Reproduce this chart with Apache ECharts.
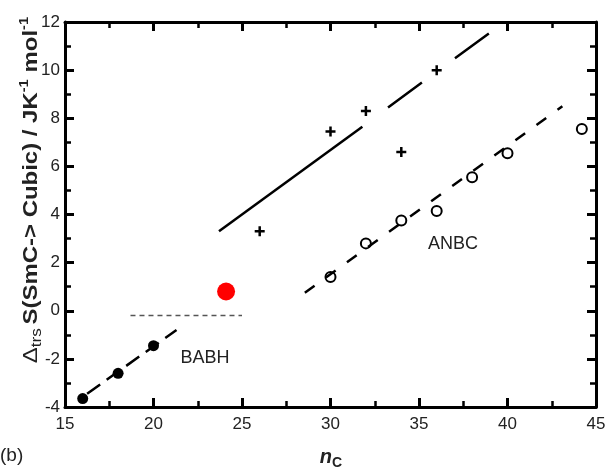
<!DOCTYPE html>
<html>
<head>
<meta charset="utf-8">
<script src="https://cdn.jsdelivr.net/npm/echarts@6/dist/echarts.min.js"></script>
</head>
<body style="margin:0;background:#fff">
<div id="chart" style="width:607px;height:471px"></div>
<script>
// 数据：n_C 与 ΔS
var babhX = [16, 18, 20]
var babhY = [-3.65, -2.6, -1.45]
var plusX = [26, 30, 32, 34, 36]
var plusY = [3.3, 7.45, 8.3, 6.6, 10.0]
var anbcX = [30, 32, 34, 36, 38, 40, 44.2]
var anbcY = [1.4, 2.8, 3.75, 4.15, 5.55, 6.55, 7.55]
var redX = [24.1]
var redY = [0.8]
// 拟合线端点
var babhFitX = [16.25, 21.3]
var babhFitY = [-3.45, -0.8]
var plusSolidX = [23.7, 31.8]
var plusSolidY = [3.3, 7.65]
var plusDashX = [33.25, 39]
var plusDashY = [8.45, 11.55]
var anbcFitX = [28.55, 43.1]
var anbcFitY = [0.75, 8.5]
var refX = [18.7, 25]
var refY = [-0.2, -0.2]

var xTicks = [15, 45, 5]
var yTicks = [-4, 12, 2]

function pairs(xs, ys) {
  return xs.map(function (x, i) { return [x, ys[i]] })
}

var font = 'Liberation Sans, Arial, Helvetica, sans-serif'
var plusPath = 'path://M-1.25,-5H1.25V-1.25H5V1.25H1.25V5H-1.25V1.25H-5V-1.25H-1.25Z'

function ax(extra, showLabel, margin) {
  var a = {
    type: 'value',
    axisLine: { show: true, onZero: false, lineStyle: { color: '#000', width: 3 } },
    axisTick: { show: true, inside: true, length: 9, lineStyle: { color: '#000', width: 3 } },
    minorTick: { show: true, splitNumber: 2, length: 6, lineStyle: { color: '#000', width: 2.5 } },
    splitLine: { show: false },
    axisLabel: { show: showLabel, margin: margin, color: '#222', fontSize: 17, fontFamily: font }
  }
  for (var k in extra) a[k] = extra[k]
  return a
}
var xr = { min: xTicks[0], max: xTicks[1], interval: xTicks[2] }
var yr = { min: yTicks[0], max: yTicks[1], interval: yTicks[2] }

var chart = echarts.init(document.getElementById('chart'))
chart.setOption({
  animation: false,
  grid: { left: 65, right: 11, top: 22, bottom: 64, outerBoundsMode: 'none' },
  xAxis: [
    ax(Object.assign({ position: 'bottom' }, xr), true, 9),
    ax(Object.assign({ position: 'top' }, xr), false, 8)
  ],
  yAxis: [
    ax(Object.assign({ position: 'left' }, yr), true, 5),
    ax(Object.assign({ position: 'right' }, yr), false, 8)
  ],
  series: [
    { type: 'line', data: pairs(babhFitX, babhFitY), symbol: 'none',
      lineStyle: { color: '#000', width: 2.5, type: [16, 8] } },
    { type: 'line', data: pairs(plusSolidX, plusSolidY), symbol: 'none',
      lineStyle: { color: '#000', width: 2.5 } },
    { type: 'line', data: pairs(plusDashX, plusDashY), symbol: 'none',
      lineStyle: { color: '#000', width: 2.5, type: [42, 41] } },
    { type: 'line', data: pairs(anbcFitX, anbcFitY), symbol: 'none',
      lineStyle: { color: '#000', width: 2.5, type: [12, 14] } },
    { type: 'line', data: pairs(refX, refY), symbol: 'none',
      lineStyle: { color: '#555', width: 1.5, type: [5, 4] } },
    { type: 'scatter', data: pairs(babhX, babhY), symbol: 'circle', symbolSize: 11,
      itemStyle: { color: '#000', opacity: 1 } },
    { type: 'scatter', data: pairs(plusX, plusY), symbol: plusPath, symbolSize: 10,
      itemStyle: { color: '#000', opacity: 1 } },
    { type: 'scatter', data: pairs(anbcX, anbcY), symbol: 'circle', symbolSize: 10,
      itemStyle: { color: '#fff', borderColor: '#000', borderWidth: 2, opacity: 1 } },
    { type: 'scatter', data: pairs(redX, redY), symbol: 'circle', symbolSize: 18,
      itemStyle: { color: '#ff0000', opacity: 1 } }
  ],
  graphic: [
    {
      type: 'text', x: 31, y: 190, rotation: Math.PI / 2, scaleX: 1.14,
      style: {
        text: '{d|Δ}{s|trs} {b|S(SmC-> Cubic) / JK}{u|-1}{b| mol}{u|-1}',
        align: 'center', verticalAlign: 'middle',
        rich: {
          d: { fontSize: 21, fontFamily: font, fill: '#222', lineHeight: 26, verticalAlign: 'middle' },
          s: { fontSize: 15, fontFamily: font, fill: '#222', lineHeight: 26, verticalAlign: 'bottom' },
          b: { fontSize: 21, fontWeight: 'bold', fontFamily: font, fill: '#222', lineHeight: 26, verticalAlign: 'middle' },
          u: { fontSize: 13, fontWeight: 'bold', fontFamily: font, fill: '#222', lineHeight: 26, verticalAlign: 'top' }
        }
      }
    },
    {
      type: 'text', x: 331, y: 457,
      style: {
        text: '{n|n}{c|C}',
        align: 'center', verticalAlign: 'middle',
        rich: {
          n: { fontSize: 20, fontWeight: 'bold', fontStyle: 'italic', fontFamily: font, fill: '#222', lineHeight: 26, verticalAlign: 'middle' },
          c: { fontSize: 14, fontWeight: 'bold', fontFamily: font, fill: '#222', lineHeight: 26, verticalAlign: 'bottom' }
        }
      }
    },
    {
      type: 'text', x: 0, y: 456,
      style: { text: '(b)', fontSize: 19, fontFamily: font, fill: '#222', align: 'left', verticalAlign: 'middle' }
    },
    {
      type: 'text', x: 205, y: 358,
      style: { text: 'BABH', fontSize: 18, fontFamily: font, fill: '#222', align: 'center', verticalAlign: 'middle' }
    },
    {
      type: 'text', x: 453, y: 244,
      style: { text: 'ANBC', fontSize: 18, fontFamily: font, fill: '#222', align: 'center', verticalAlign: 'middle' }
    }
  ]
})
</script>
</body>
</html>
